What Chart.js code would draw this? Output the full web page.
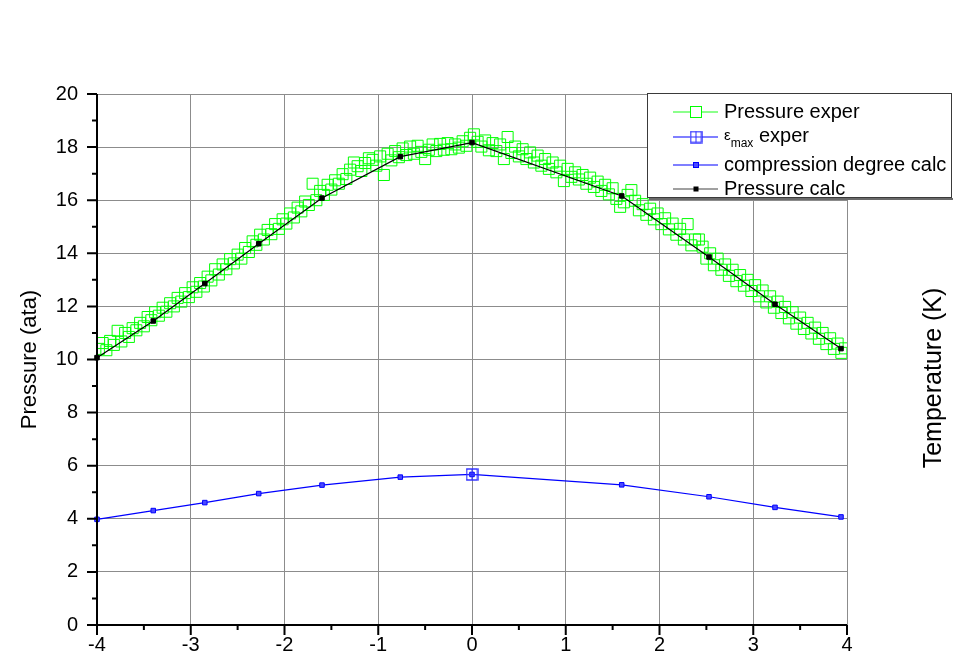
<!DOCTYPE html>
<html>
<head>
<meta charset="utf-8">
<script src="https://cdn.jsdelivr.net/npm/chart.js@4.4.1/dist/chart.umd.min.js"></script>
<style>
  html, body { margin: 0; padding: 0; background: #fff; }
  canvas { display: block; }
</style>
</head>
<body>
<canvas id="chart" width="953" height="664"></canvas>
<script>
/* Pressure / compression degree profiles */

const X_TICKS = [-4, -3, -2, -1, 0, 1, 2, 3, 4];
const Y_TICKS = [0, 2, 4, 6, 8, 10, 12, 14, 16, 18, 20];

const LEGEND_ITEMS = ['Pressure exper', 'εmax exper', 'compression degree calc', 'Pressure calc'];
const Y_TITLE = 'Pressure (ata)';
const Y2_TITLE = 'Temperature (K)';

// calculated profiles (shared x positions)
const calcX           = [-4.00, -3.40, -2.85, -2.275, -1.60, -0.765, 0.00, 1.597, 2.528, 3.232, 3.936];
const pressureCalc    = [10.07, 11.45, 12.86, 14.36, 16.08, 17.64, 18.17, 16.16, 13.86, 12.08, 10.41];
const compressionCalc = [ 3.98,  4.31,  4.61,  4.95,  5.27,  5.57,  5.67,  5.28,  4.83,  4.43,  4.07];

// experimental maximum compression
const epsMaxX = [0];
const epsMaxY = [5.67];

// experimental pressure
const expX = [
  -3.98, -3.94, -3.90, -3.86, -3.82, -3.78, -3.74, -3.70, -3.66, -3.62,
  -3.58, -3.54, -3.50, -3.46, -3.42, -3.38, -3.34, -3.30, -3.26, -3.22,
  -3.18, -3.14, -3.10, -3.06, -3.02, -2.98, -2.94, -2.90, -2.86, -2.82,
  -2.78, -2.74, -2.70, -2.66, -2.62, -2.58, -2.54, -2.50, -2.46, -2.42,
  -2.38, -2.34, -2.30, -2.26, -2.22, -2.18, -2.14, -2.10, -2.06, -2.02,
  -1.98, -1.94, -1.90, -1.86, -1.82, -1.78, -1.74, -1.70, -1.66, -1.62,
  -1.58, -1.54, -1.50, -1.46, -1.42, -1.38, -1.34, -1.30, -1.26, -1.22,
  -1.18, -1.14, -1.10, -1.06, -1.02, -0.98, -0.94, -0.90, -0.86, -0.82,
  -0.78, -0.74, -0.70, -0.66, -0.62, -0.58, -0.54, -0.50, -0.46, -0.42,
  -0.38, -0.34, -0.30, -0.26, -0.22, -0.18, -0.14, -0.10, -0.06, -0.02,
   0.02,  0.06,  0.10,  0.14,  0.18,  0.22,  0.26,  0.30,  0.34,  0.38,
   0.42,  0.46,  0.50,  0.54,  0.58,  0.62,  0.66,  0.70,  0.74,  0.78,
   0.82,  0.86,  0.90,  0.94,  0.98,  1.02,  1.06,  1.10,  1.14,  1.18,
   1.22,  1.26,  1.30,  1.34,  1.38,  1.42,  1.46,  1.50,  1.54,  1.58,
   1.62,  1.66,  1.70,  1.74,  1.78,  1.82,  1.86,  1.90,  1.94,  1.98,
   2.02,  2.06,  2.10,  2.14,  2.18,  2.22,  2.26,  2.30,  2.34,  2.38,
   2.42,  2.46,  2.50,  2.54,  2.58,  2.62,  2.66,  2.70,  2.74,  2.78,
   2.82,  2.86,  2.90,  2.94,  2.98,  3.02,  3.06,  3.10,  3.14,  3.18,
   3.22,  3.26,  3.30,  3.34,  3.38,  3.42,  3.46,  3.50,  3.54,  3.58,
   3.62,  3.66,  3.70,  3.74,  3.78,  3.82,  3.86,  3.90,  3.94,  3.98
];
const expY = [
  10.40, 10.62, 10.35, 10.70, 10.55, 11.08, 10.68, 11.00, 10.85, 11.18,
  11.10, 11.38, 11.25, 11.60, 11.48, 11.78, 11.65, 11.95, 11.80, 12.12,
  12.00, 12.32, 12.18, 12.50, 12.35, 12.72, 12.55, 12.88, 12.75, 13.12,
  12.98, 13.40, 13.20, 13.58, 13.40, 13.78, 13.62, 13.95, 13.80, 14.20,
  14.05, 14.45, 14.32, 14.70, 14.52, 14.88, 14.72, 15.10, 14.92, 15.28,
  15.12, 15.50, 15.35, 15.72, 15.58, 15.95, 15.82, 16.62, 16.00, 16.35,
  16.20, 16.58, 16.40, 16.75, 16.62, 16.98, 16.80, 17.15, 17.42, 17.28,
  17.10, 17.40, 17.58, 17.52, 17.30, 17.65, 16.95, 17.75, 17.50, 17.85,
  17.62, 17.95, 17.70, 18.02, 17.75, 18.05, 17.82, 17.55, 17.90, 18.10,
  17.85, 18.12, 17.90, 18.15, 17.92, 18.10, 17.98, 18.22, 18.05, 18.35,
  18.48, 18.20, 18.02, 18.25, 17.88, 18.15, 17.85, 18.10, 17.55, 18.38,
  17.78, 18.02, 17.65, 17.92, 17.55, 17.80, 17.42, 17.68, 17.30, 17.55,
  17.18, 17.42, 17.05, 17.30, 16.72, 17.18, 16.88, 17.05, 16.78, 16.95,
  16.62, 16.85, 16.50, 16.70, 16.35, 16.58, 16.22, 16.45, 16.05, 15.75,
  15.92, 16.20, 16.38, 15.98, 15.62, 15.85, 15.45, 15.68, 15.28, 15.50,
  15.10, 15.32, 14.90, 15.12, 14.70, 14.92, 14.52, 15.10, 14.30, 14.52,
  14.52, 14.25, 13.80, 14.00, 13.55, 13.80, 13.38, 13.58, 13.15, 13.38,
  12.95, 13.18, 12.78, 13.00, 12.58, 12.80, 12.38, 12.60, 12.15, 12.38,
  11.95, 12.18, 11.75, 11.98, 11.55, 11.78, 11.35, 11.58, 11.15, 11.38,
  10.98, 11.20, 10.78, 11.00, 10.58, 10.80, 10.40, 10.60, 10.25, 10.42
];

const FONT = "'Liberation Sans', Arial, sans-serif";
const GREEN = '#00ff00';
const GREEN_LEG = '#66ff66';
const BLUE = '#0000ff';
const BLUE_PT = '#4a4aff';
const GRID = '#8c8c8c';

function pts(xs, ys) {
  return xs.map((x, i) => ({ x: x, y: ys[i] }));
}

/* open square with a plus inside, used for the εmax marker */
function crossedSquare(size, color) {
  const c = document.createElement('canvas');
  c.width = size; c.height = size;
  const g = c.getContext('2d');
  g.strokeStyle = color;
  g.lineWidth = 1.4;
  g.strokeRect(1, 1, size - 2, size - 2);
  g.lineWidth = 1;
  g.beginPath();
  g.moveTo(size / 2, 1); g.lineTo(size / 2, size - 1);
  g.moveTo(1, size / 2); g.lineTo(size - 1, size / 2);
  g.stroke();
  return c;
}
const epsIcon = crossedSquare(13, '#2a2aff');

/* axes with major + minor ticks, axis titles and the Origin-style legend */
const frame = {
  id: 'frame',
  afterDatasetsDraw(chart) {
    const { ctx, chartArea: a, scales: { x, y } } = chart;
    ctx.save();
    ctx.strokeStyle = '#000';
    ctx.lineWidth = 2;
    ctx.beginPath();
    ctx.moveTo(a.left, a.top);
    ctx.lineTo(a.left, a.bottom);
    ctx.lineTo(a.right, a.bottom);
    // x ticks (major every 1, minor every 0.5)
    for (let i = 0; i < X_TICKS.length; i++) {
      const px = x.getPixelForValue(X_TICKS[i]);
      ctx.moveTo(px, a.bottom);
      ctx.lineTo(px, a.bottom + 10);
      if (i < X_TICKS.length - 1) {
        const pm = x.getPixelForValue((X_TICKS[i] + X_TICKS[i + 1]) / 2);
        ctx.moveTo(pm, a.bottom);
        ctx.lineTo(pm, a.bottom + 5);
      }
    }
    // y ticks (major every 2, minor every 1)
    for (let i = 0; i < Y_TICKS.length; i++) {
      const py = y.getPixelForValue(Y_TICKS[i]);
      ctx.moveTo(a.left, py);
      ctx.lineTo(a.left - 10, py);
      if (i < Y_TICKS.length - 1) {
        const pm = y.getPixelForValue((Y_TICKS[i] + Y_TICKS[i + 1]) / 2);
        ctx.moveTo(a.left, pm);
        ctx.lineTo(a.left - 5, pm);
      }
    }
    ctx.stroke();

    // axis titles
    ctx.fillStyle = '#000';
    ctx.textAlign = 'center';
    ctx.textBaseline = 'middle';
    ctx.save();
    ctx.font = '22px ' + FONT;
    ctx.translate(30, (a.top + a.bottom) / 2);
    ctx.rotate(-Math.PI / 2);
    ctx.fillText(Y_TITLE, 0, 0);
    ctx.restore();
    ctx.save();
    ctx.font = '25px ' + FONT;
    ctx.translate(934, 378);
    ctx.rotate(-Math.PI / 2);
    ctx.fillText(Y2_TITLE, 0, 0);
    ctx.restore();
    ctx.restore();
  },
  afterDraw(chart) {
    const { ctx } = chart;
    const L = 647, T = 93, R = 951, B = 197;
    ctx.save();
    ctx.fillStyle = '#fff';
    ctx.fillRect(L, T, R - L, B - T);
    ctx.strokeStyle = '#3a3a3a';
    ctx.lineWidth = 1;
    ctx.strokeRect(L + 0.5, T + 0.5, R - L, B - T);
    ctx.fillStyle = '#6a6a6a';
    ctx.fillRect(L + 2, B + 1, R - L, 2);

    const rows = [112, 137, 165, 189];
    const x0 = 673, x1 = 718, xc = 696, tx = 724;
    ctx.font = '20px ' + FONT;
    ctx.textBaseline = 'middle';
    ctx.textAlign = 'left';

    // row 1: green line + open square
    ctx.strokeStyle = GREEN_LEG; ctx.lineWidth = 1.5;
    ctx.beginPath(); ctx.moveTo(x0, rows[0]); ctx.lineTo(xc - 6, rows[0]);
    ctx.moveTo(xc + 6, rows[0]); ctx.lineTo(x1, rows[0]); ctx.stroke();
    ctx.strokeStyle = GREEN; ctx.lineWidth = 1;
    ctx.strokeRect(xc - 5.5, rows[0] - 5.5, 11, 11);

    // row 2: blue line + crossed square
    ctx.strokeStyle = BLUE; ctx.lineWidth = 1.2;
    ctx.beginPath(); ctx.moveTo(x0, rows[1]); ctx.lineTo(xc - 6, rows[1]);
    ctx.moveTo(xc + 6, rows[1]); ctx.lineTo(x1, rows[1]); ctx.stroke();
    ctx.drawImage(epsIcon, xc - 6.5, rows[1] - 6.5);

    // row 3: blue line + small square
    ctx.strokeStyle = BLUE; ctx.lineWidth = 1.2;
    ctx.beginPath(); ctx.moveTo(x0, rows[2]); ctx.lineTo(x1, rows[2]); ctx.stroke();
    ctx.fillStyle = BLUE_PT; ctx.fillRect(xc - 2.5, rows[2] - 2.5, 5, 5);
    ctx.strokeStyle = BLUE; ctx.lineWidth = 1; ctx.strokeRect(xc - 2.5, rows[2] - 2.5, 5, 5);

    // row 4: grey line + black square
    ctx.strokeStyle = '#808080'; ctx.lineWidth = 1.5;
    ctx.beginPath(); ctx.moveTo(x0, rows[3]); ctx.lineTo(x1, rows[3]); ctx.stroke();
    ctx.fillStyle = '#000'; ctx.fillRect(xc - 2.5, rows[3] - 2.5, 5, 5);

    ctx.fillStyle = '#000';
    ctx.fillText(LEGEND_ITEMS[0], tx, rows[0]);
    // εmax with subscript
    const eps = LEGEND_ITEMS[1].slice(0, 1);
    const sub = LEGEND_ITEMS[1].slice(1, 4);
    const rest = LEGEND_ITEMS[1].slice(4);
    ctx.font = '15px ' + FONT;
    ctx.fillText(eps, tx, rows[1] - 1);
    let w = ctx.measureText(eps).width;
    ctx.font = '12px ' + FONT;
    ctx.fillText(sub, tx + w, rows[1] + 7);
    w += ctx.measureText(sub).width;
    ctx.font = '20px ' + FONT;
    ctx.fillText(rest, tx + w, rows[1] - 1);
    ctx.fillText(LEGEND_ITEMS[2], tx, rows[2]);
    ctx.fillText(LEGEND_ITEMS[3], tx, rows[3]);
    ctx.restore();
  }
};

new Chart(document.getElementById('chart'), {
  type: 'scatter',
  data: {
    datasets: [
      {
        label: LEGEND_ITEMS[1],
        data: pts(epsMaxX, epsMaxY),
        showLine: false,
        pointStyle: epsIcon,
        pointRadius: 7,
        clip: false,
      },
      {
        label: LEGEND_ITEMS[2],
        data: pts(calcX, compressionCalc),
        showLine: true,
        borderColor: BLUE,
        borderWidth: 1.2,
        pointStyle: 'rect',
        pointRadius: 3.2,
        pointBackgroundColor: BLUE_PT,
        pointBorderColor: BLUE,
        pointBorderWidth: 1,
        clip: false,
      },
      {
        label: LEGEND_ITEMS[3],
        data: pts(calcX, pressureCalc),
        showLine: true,
        borderColor: '#000',
        borderWidth: 1.2,
        pointStyle: 'rect',
        pointRadius: 3.2,
        pointBackgroundColor: '#000',
        pointBorderColor: '#000',
        pointBorderWidth: 1,
        clip: false,
      },
      {
        label: LEGEND_ITEMS[0],
        data: pts(expX, expY),
        showLine: false,
        pointStyle: 'rect',
        pointRadius: 7.8,
        pointBackgroundColor: 'rgba(0,0,0,0)',
        pointBorderColor: GREEN,
        pointBorderWidth: 1,
      },
    ],
  },
  options: {
    responsive: false,
    animation: false,
    devicePixelRatio: 1,
    events: [],
    layout: { padding: { left: 0, right: 106, top: 94, bottom: 0 } },
    plugins: { legend: { display: false }, tooltip: { enabled: false } },
    scales: {
      x: {
        type: 'linear',
        min: -4, max: 4,
        afterFit: (s) => { s.height = 39; },
        afterBuildTicks: (s) => { s.ticks = X_TICKS.map((v) => ({ value: v })); },
        border: { display: false },
        grid: { color: GRID, lineWidth: 1, drawTicks: false },
        ticks: { color: '#000', font: { family: FONT, size: 20 }, padding: 8, maxRotation: 0 },
      },
      y: {
        type: 'linear',
        min: 0, max: 20,
        afterFit: (s) => { s.width = 97; },
        afterBuildTicks: (s) => { s.ticks = Y_TICKS.map((v) => ({ value: v })); },
        border: { display: false },
        grid: { color: GRID, lineWidth: 1, drawTicks: false },
        ticks: { color: '#000', font: { family: FONT, size: 20 }, padding: 19 },
      },
    },
  },
  plugins: [frame],
});
</script>
</body>
</html>
